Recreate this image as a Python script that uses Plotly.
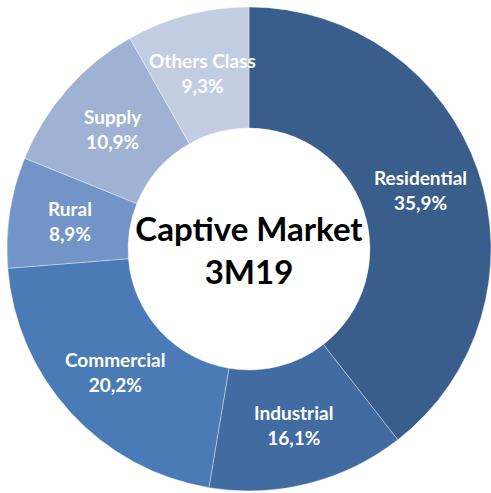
import math
import plotly.graph_objects as go

categories = ["Residential", "Industrial", "Commercial", "Rural", "Supply", "Others Class"]
# slice sizes as drawn in the picture (share of the ring, %)
slice_sizes = [39.5, 13.2, 21.1, 7.4, 10.7, 8.2]
# percentages printed on the labels
label_pcts = ["35,9%", "16,1%", "20,2%", "8,9%", "10,9%", "9,3%"]
colors = ["#3A5E8B", "#426CA1", "#4A7BB6", "#7294C6", "#A0B2D4", "#C3CDE2"]
center_title = "Captive Market<br>3M19"

W, H = 491, 493
dom_x = [7 / W, 1.0]
dom_y = [0.0, 488 / H]
HOLE = 0.5

fig = go.Figure(go.Pie(
    labels=categories,
    values=slice_sizes,
    text=label_pcts,
    sort=False,
    direction="clockwise",
    rotation=0,
    hole=HOLE,
    marker=dict(colors=colors, line=dict(color="rgba(255,255,255,0.5)", width=0.7)),
    textinfo="none",
    hovertemplate="%{label}: %{text}<extra></extra>",
    title=dict(text="<b>" + center_title + "</b>", position="middle center",
               font=dict(family="Lato", size=35, color="black")),
    domain=dict(x=dom_x, y=dom_y),
    showlegend=False,
))

# data labels at the middle of each ring segment (derived from the slice sizes)
cx_px = (dom_x[0] + dom_x[1]) / 2 * W
cy_px = (dom_y[0] + dom_y[1]) / 2 * H
r_out = min((dom_x[1] - dom_x[0]) * W, (dom_y[1] - dom_y[0]) * H) / 2
r_mid = r_out * (1 + HOLE) / 2
total = sum(slice_sizes)
cum = 0.0
for name, size, pct in zip(categories, slice_sizes, label_pcts):
    ang = 2 * math.pi * (cum + size / 2) / total
    cum += size
    x_px = cx_px + r_mid * math.sin(ang)
    y_px = cy_px + r_mid * math.cos(ang)
    fig.add_annotation(
        x=x_px / W, y=y_px / H, xref="paper", yref="paper",
        text=f"<b>{name}</b><br><b>{pct}</b>",
        showarrow=False, align="center",
        xanchor="center", yanchor="middle",
        font=dict(family="Lato", size=19, color="white"),
    )

fig.update_layout(
    width=W, height=H,
    margin=dict(l=0, r=0, t=0, b=0),
    paper_bgcolor="white",
)
fig.write_html("out.html")
